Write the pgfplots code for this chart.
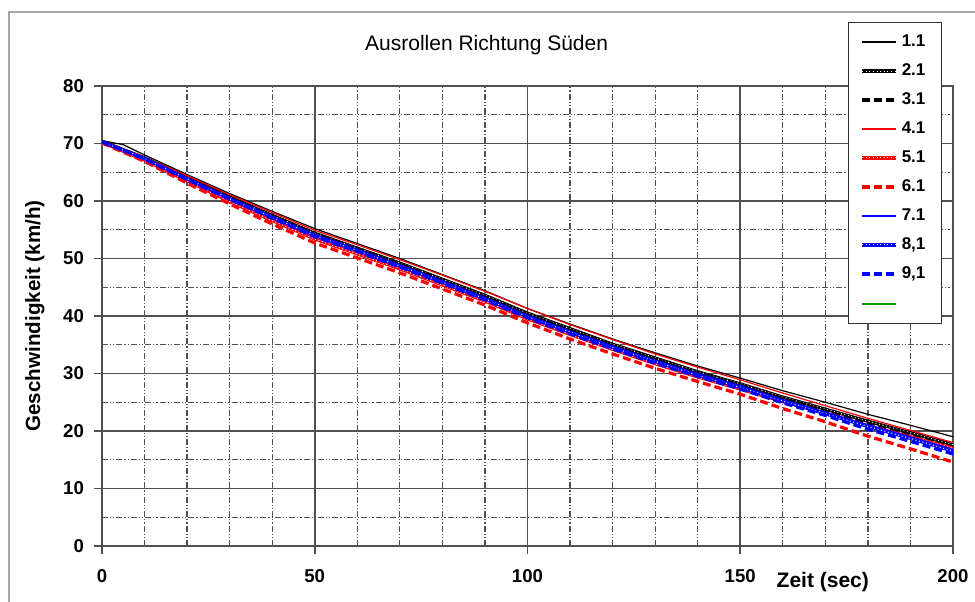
\documentclass[border=0pt]{standalone}
\usepackage{fontspec}
\setmainfont{Liberation Sans}
\usepackage{pgfplots}
\pgfplotsset{compat=1.18}

\definecolor{gridgray}{RGB}{80,80,80}
\definecolor{xlred}{RGB}{255,0,0}
\definecolor{xlblue}{RGB}{0,0,255}
\definecolor{xlgreen}{RGB}{0,160,0}

% series styles, Excel look
\tikzset{
  thinline/.style={line width=0.6pt},
  dotline/.style={line width=1.6pt, postaction={draw=white, line width=0.5pt, dash pattern=on 0.5pt off 1.3pt}},
  dashline/.style={line width=1.6pt, dash pattern=on 4pt off 2pt},
}

\begin{document}
\begin{tikzpicture}
\useasboundingbox (0,0) rectangle (487.5pt,300.5pt);
\draw[black!35, line width=1pt] (4.5pt,-5pt) -- (4.5pt,294.5pt) -- (495pt,294.5pt);
\begin{axis}[
  at={(51pt,27.5pt)}, anchor=south west,
  scale only axis, width=425.5pt, height=230pt,
  xmin=0, xmax=200, ymin=0, ymax=80,
  xtick={0,50,100,150,200}, ytick={0,10,...,80},
  minor x tick num=4, minor y tick num=1,
  xtick pos=bottom, ytick pos=left, tick align=outside,
  major tick length=4pt, minor tick length=0pt,
  tick style={gridgray, line width=0.8pt},
  grid=both,
  major grid style={gridgray, line width=0.9pt},
  minor grid style={gridgray, line width=0.6pt, dash pattern=on 3pt off 1pt on 0.6pt off 1pt on 0.6pt off 1pt},
  axis line style={gridgray, line width=1pt},
  /pgf/number format/assume math mode=true,
  tick label style={font=\bfseries\fontsize{9.3}{10}\selectfont},
  xticklabel style={yshift=-4pt},
  yticklabel style={xshift=-1.5pt},
  title={Ausrollen Richtung Süden},
  title style={at={(axis description cs:0.452,1.063)}, anchor=center, yshift=0pt, font=\fontsize{10.5}{12}\selectfont},
  xlabel={Zeit (sec)},
  xlabel style={at={(axis description cs:0.847,-0.078)}, anchor=center, font=\bfseries\fontsize{10.5}{12}\selectfont},
  ylabel={Geschwindigkeit (km/h)},
  ylabel style={at={(axis description cs:-0.079,0.5)}, anchor=center, font=\bfseries\fontsize{10.3}{12}\selectfont},
  legend style={at={(axis description cs:0.8766,1.139)}, anchor=north west,
    draw=black!80, line width=0.6pt, fill=white,
    font=\bfseries\fontsize{8.5}{9}\selectfont,
    row sep=3.1pt, inner xsep=6pt, inner ysep=4pt,
    cells={anchor=west}},
  legend image code/.code={\draw[#1] (0pt,0pt) -- (17pt,0pt);},
]
\addplot[black, thinline] coordinates {(0,70.5)(5,69.8)(10,68.0)(20,64.6)(30,61.3)(40,58.2)(50,55.2)(60,52.6)(70,50.0)(80,47.2)(90,44.4)(100,41.3)(110,38.6)(120,36.0)(130,33.6)(140,31.3)(150,29.2)(160,27.0)(170,25.0)(180,22.9)(190,21.0)(200,19.0)};
\addlegendentry{1.1}
\addplot[black, dotline] coordinates {(0,70.4)(10,67.5)(20,64.2)(30,60.7)(40,57.5)(50,54.4)(60,51.8)(70,49.2)(80,46.4)(90,43.6)(100,40.5)(110,37.8)(120,35.1)(130,32.7)(140,30.3)(150,28.2)(160,25.9)(170,23.8)(180,21.7)(190,19.7)(200,17.6)};
\addlegendentry{2.1}
\addplot[black, dashline] coordinates {(0,70.3)(10,67.4)(20,64.0)(30,60.6)(40,57.3)(50,54.2)(60,51.6)(70,49.0)(80,46.1)(90,43.3)(100,40.2)(110,37.5)(120,34.8)(130,32.4)(140,30.0)(150,27.9)(160,25.6)(170,23.5)(180,21.3)(190,19.3)(200,17.2)};
\addlegendentry{3.1}
\addplot[xlred, thinline] coordinates {(0,70.5)(10,67.6)(20,64.4)(30,61.1)(40,58.0)(50,54.9)(60,52.4)(70,49.8)(80,47.1)(90,44.3)(100,41.3)(110,38.5)(120,35.9)(130,33.4)(140,31.1)(150,28.9)(160,26.6)(170,24.4)(180,22.2)(190,20.1)(200,18.0)};
\addlegendentry{4.1}
\addplot[xlred, dotline] coordinates {(0,70.2)(10,67.1)(20,63.5)(30,59.9)(40,56.6)(50,53.4)(60,50.8)(70,48.2)(80,45.4)(90,42.6)(100,39.5)(110,36.8)(120,34.2)(130,31.7)(140,29.4)(150,27.3)(160,25.1)(170,23.1)(180,20.9)(190,19.0)(200,17.0)};
\addlegendentry{5.1}
\addplot[xlred, dashline] coordinates {(0,70.1)(10,66.9)(20,63.1)(30,59.5)(40,56.0)(50,52.7)(60,50.1)(70,47.5)(80,44.7)(90,41.9)(100,38.8)(110,36.0)(120,33.4)(130,30.9)(140,28.6)(150,26.4)(160,23.9)(170,21.6)(180,19.1)(190,16.9)(200,14.6)};
\addlegendentry{6.1}
\addplot[xlblue, thinline] coordinates {(0,70.4)(10,67.4)(20,64.0)(30,60.6)(40,57.3)(50,54.2)(60,51.6)(70,48.9)(80,46.1)(90,43.2)(100,40.1)(110,37.4)(120,34.8)(130,32.3)(140,30.0)(150,27.9)(160,25.5)(170,23.3)(180,21.1)(190,19.0)(200,16.8)};
\addlegendentry{7.1}
\addplot[xlblue, dotline] coordinates {(0,70.3)(10,67.4)(20,63.9)(30,60.4)(40,57.2)(50,54.0)(60,51.4)(70,48.7)(80,45.9)(90,43.0)(100,39.9)(110,37.2)(120,34.5)(130,32.1)(140,29.7)(150,27.6)(160,25.2)(170,23.0)(180,20.8)(190,18.7)(200,16.5)};
\addlegendentry{8,1}
\addplot[xlblue, dashline] coordinates {(0,70.3)(10,67.3)(20,63.7)(30,60.3)(40,57.0)(50,53.8)(60,51.2)(70,48.5)(80,45.7)(90,42.8)(100,39.7)(110,36.9)(120,34.3)(130,31.8)(140,29.5)(150,27.3)(160,24.9)(170,22.7)(180,20.3)(190,18.2)(200,16.0)};
\addlegendentry{9,1}
\addlegendimage{color=xlgreen, line width=1pt}
\addlegendentry{\rule[-3.5pt]{0pt}{10pt}}
\end{axis}
\end{tikzpicture}
\end{document}
